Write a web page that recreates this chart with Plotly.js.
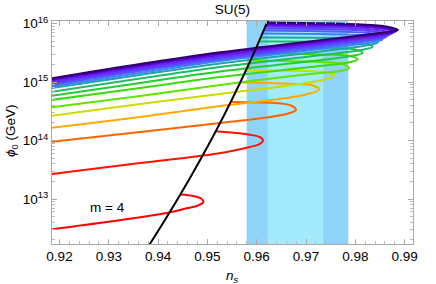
<!DOCTYPE html>
<html><head><meta charset="utf-8">
<script src="https://cdn.plot.ly/plotly-3.0.1.min.js"></script>
<style>html,body{margin:0;padding:0;background:#fff}</style>
</head><body><div id="chart" style="width:436px;height:284px"></div>
<script>
// ---- data (n_s, log10 phi0/GeV) ----
const mValues = [4,5,6,7,8,9,10,11,12,13,14,15,16,17,18,19,20];
const ns_m4  = [0.918,0.93024,0.94174,0.94580,0.94809,0.94917,0.94870,0.94708,0.9445];
const lg_m4  = [12.477,12.615,12.761,12.841,12.889,12.949,13.009,13.051,13.077];
const ns_m5  = [0.918,0.93633,0.95174,0.95864,0.96047,0.96128,0.96057,0.95824,0.9517];
const lg_m5  = [13.422,13.615,13.774,13.889,13.935,14.000,14.060,14.103,14.157];
const ns_m6  = [0.918,0.93633,0.95256,0.9627,0.96635,0.96797,0.96696,0.96432,0.95469];
const lg_m6  = [13.974,14.145,14.299,14.402,14.462,14.521,14.598,14.636,14.658];
const ns_m7  = [0.918,0.93633,0.95256,0.96675,0.97081,0.97264,0.97142,0.96777,0.95661];
const lg_m7  = [14.214,14.402,14.590,14.735,14.803,14.872,14.940,14.966,14.991];
const ns_m8  = [0.918,0.93633,0.95256,0.96878,0.97385,0.97574,0.97426,0.9698,0.95781];
const lg_m8  = [14.419,14.624,14.795,14.966,15.043,15.103,15.162,15.188,15.197];
const ns_m9  = [0.918,0.93633,0.95256,0.97081,0.9769,0.97872,0.9773,0.97284,0.95874];
const lg_m9  = [14.564,14.761,14.949,15.137,15.188,15.239,15.308,15.342,15.368];
const ns_m10 = [0.918,0.93633,0.95256,0.97284,0.97852,0.98049,0.97893,0.97385,0.95943];
const lg_m10 = [14.689,14.897,15.085,15.274,15.333,15.385,15.444,15.470,15.496];
const ns_m11 = [0.918,0.93633,0.95256,0.97487,0.97974,0.9815,0.97994,0.97487,0.95992];
const lg_m11 = [14.761,14.983,15.179,15.393,15.453,15.496,15.556,15.581,15.590];
const ns_m12 = [0.918,0.93633,0.95256,0.97588,0.98177,0.98353,0.98177,0.97588,0.96047];
const lg_m12 = [14.829,15.060,15.256,15.487,15.556,15.603,15.658,15.684,15.692];
const ns_m13 = [0.918,0.93633,0.95256,0.9769,0.98278,0.9846,0.98278,0.9769,0.96081];
const lg_m13 = [14.892,15.120,15.316,15.564,15.632,15.675,15.726,15.752,15.761];
const ns_m14 = [0.918,0.93633,0.95256,0.97791,0.98379,0.98552,0.98379,0.97791,0.96116];
const lg_m14 = [14.918,15.154,15.359,15.615,15.684,15.726,15.778,15.812,15.829];
const ns_m15 = [0.918,0.93633,0.95256,0.97893,0.9844,0.98623,0.9844,0.97893,0.96142];
const lg_m15 = [14.944,15.188,15.385,15.658,15.726,15.769,15.821,15.855,15.880];
const ns_m16 = [0.918,0.93633,0.95256,0.97994,0.98521,0.98684,0.98521,0.97994,0.96159];
const lg_m16 = [14.969,15.214,15.410,15.701,15.761,15.803,15.846,15.889,15.915];
const ns_m17 = [0.918,0.93633,0.95256,0.98095,0.98582,0.98744,0.98582,0.98095,0.96176];
const lg_m17 = [14.995,15.239,15.436,15.735,15.795,15.829,15.872,15.915,15.949];
const ns_m18 = [0.918,0.93633,0.95256,0.98197,0.98643,0.98795,0.98643,0.98197,0.96189];
const lg_m18 = [15.021,15.265,15.462,15.769,15.821,15.855,15.897,15.940,15.974];
const ns_m19 = [0.918,0.93633,0.95256,0.98298,0.98694,0.98832,0.98694,0.98298,0.96199];
const lg_m19 = [15.041,15.286,15.487,15.803,15.846,15.872,15.915,15.957,15.995];
const ns_m20 = [0.918,0.93633,0.95256,0.98339,0.98724,0.98866,0.98724,0.98339,0.96210];
const lg_m20 = [15.058,15.308,15.508,15.821,15.863,15.889,15.932,15.974,16.017];
const ns_black = [0.93753,0.93836,0.94138,0.94505,0.94853,0.95183,0.95493,0.95785,0.96014,0.96223,0.96274];
const lg_black = [12.128,12.236,12.641,13.154,13.667,14.179,14.692,15.205,15.632,16.043,16.145];
const band2sigma = [0.95797, 0.97858];
const band1sigma = [0.96223, 0.97351];
const xTickVals = [0.92,0.93,0.94,0.95,0.96,0.97,0.98,0.99];
const yTickVals = [1e13,1e14,1e15,1e16];
const yTickText = ['10<sup>13</sup>','10<sup>14</sup>','10<sup>15</sup>','10<sup>16</sup>'];
const labelText = 'm = 4';

// ---- styles ----
const curveColors = ['#ff0000','#ff1200','#ff6400','#ffaa00','#ccdc00','#5ce600','#38dc10',
  '#22cc33','#20bb66','#1ea6a0','#3a82ff','#4a60ff','#5a44ff','#682cff','#6614ee','#5000c0','#300070'];

const nsAll = [ns_m4,ns_m5,ns_m6,ns_m7,ns_m8,ns_m9,ns_m10,ns_m11,ns_m12,ns_m13,ns_m14,ns_m15,ns_m16,ns_m17,ns_m18,ns_m19,ns_m20];
const lgAll = [lg_m4,lg_m5,lg_m6,lg_m7,lg_m8,lg_m9,lg_m10,lg_m11,lg_m12,lg_m13,lg_m14,lg_m15,lg_m16,lg_m17,lg_m18,lg_m19,lg_m20];

const traces = mValues.map((m,i)=>({
  type:'scatter', mode:'lines', name:'m='+m,
  x: nsAll[i], y: lgAll[i].map(v=>Math.pow(10,v)),
  line:{color:curveColors[i], width:2, shape:'spline', smoothing:1},
  hoverinfo:'skip', showlegend:false
}));
traces.push({type:'scatter', mode:'lines', x: ns_black, y: lg_black.map(v=>Math.pow(10,v)),
  line:{color:'#000', width:2, shape:'spline', smoothing:1}, hoverinfo:'skip', showlegend:false});

const yMinor = [];
for (let n=12;n<=15;n++) for (let k=2;k<=9;k++) yMinor.push(k*Math.pow(10,n));

const font = {family:'Liberation Sans, Arial, sans-serif', size:13.5, color:'#000'};
const layout = {
  width:436, height:284,
  margin:{l:52, r:23, t:21, b:40, pad:0},
  paper_bgcolor:'#fff', plot_bgcolor:'#fff',
  font: font,
  title:{text:'SU(5)', font:{family:font.family,size:13.5,color:'#000'}, x:0.5, xref:'paper', y:1-9/284, yref:'container', yanchor:'middle'},
  xaxis:{range:[0.918478,0.991704], tickmode:'array', tickvals:xTickVals, ticktext:xTickVals.map(v=>v.toFixed(2)),
    ticks:'inside', ticklen:5, tickwidth:1, tickcolor:'#aaa', showline:true, linecolor:'#aaa', linewidth:1, mirror:'ticks',
    showgrid:false, zeroline:false, tickfont:font,
    minor:{tickmode:'linear', tick0:0.92, dtick:0.002, ticks:'inside', ticklen:3, tickcolor:'#bbb', showgrid:false}},
  yaxis:{type:'log', range:[12.2308,16.0427], tickmode:'array', tickvals:yTickVals, ticktext:yTickText,
    ticks:'inside', ticklen:5, tickwidth:1, tickcolor:'#aaa', showline:true, linecolor:'#aaa', linewidth:1, mirror:'ticks',
    showgrid:false, zeroline:false, tickfont:font,
    minor:{tickmode:'array', tickvals:yMinor, ticks:'inside', ticklen:3, tickcolor:'#bbb', showgrid:false}},
  shapes:[
    {type:'rect', xref:'x', yref:'paper', x0:band2sigma[0], x1:band2sigma[1], y0:0, y1:1, fillcolor:'#8fd3f8', line:{width:0}, layer:'below'},
    {type:'rect', xref:'x', yref:'paper', x0:band1sigma[0], x1:band1sigma[1], y0:0, y1:1, fillcolor:'#a2eafc', line:{width:0}, layer:'below'}
  ],
  annotations:[
    {text:labelText, x:0.92974, y:12.863, xref:'x', yref:'y', showarrow:false, font:font, xanchor:'center', yanchor:'middle'},
    {text:'<i>n</i><sub><i>s</i></sub>', x:0.5, y:(244-276)/223, xref:'paper', yref:'paper', showarrow:false, font:font, xanchor:'center', yanchor:'middle'},
    {text:'<i>ϕ</i><sub>0</sub> (GeV)', x:(11-52)/361, y:(244-131)/223, xref:'paper', yref:'paper', showarrow:false, font:font, textangle:-90, xanchor:'center', yanchor:'middle'}
  ]
};
Plotly.newPlot('chart', traces, layout, {staticPlot:true, displayModeBar:false});
</script></body></html>
